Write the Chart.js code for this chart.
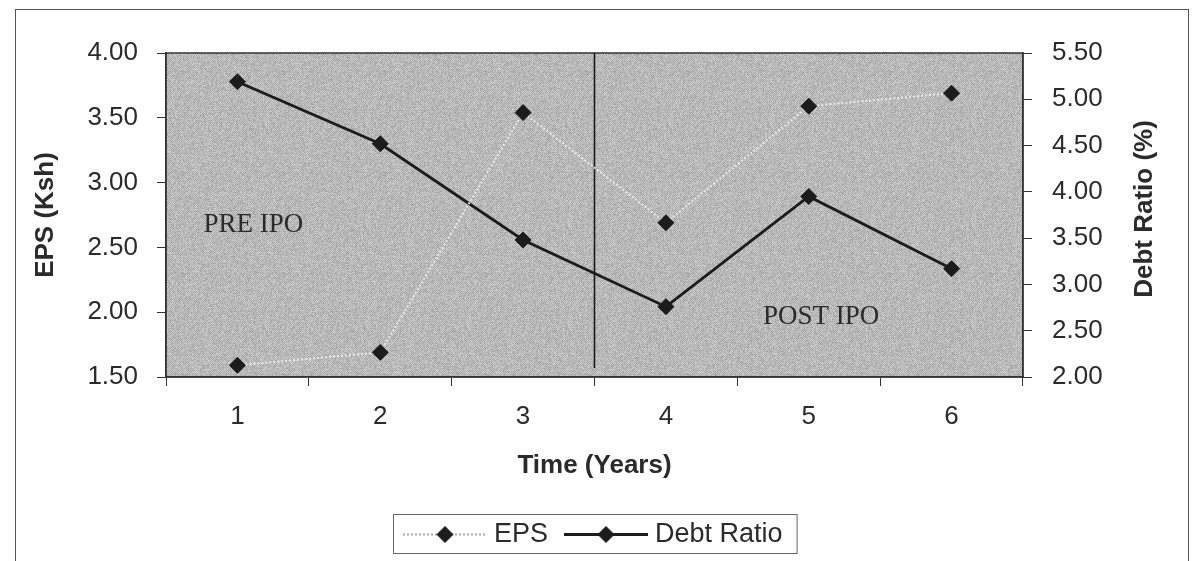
<!DOCTYPE html>
<html>
<head>
<meta charset="utf-8">
<script src="https://cdn.jsdelivr.net/npm/chart.js@4/dist/chart.umd.min.js"></script>
<style>
  html, body { margin: 0; padding: 0; background: #ffffff; }
  #wrap { position: relative; width: 1199px; height: 561px; }
</style>
</head>
<body>
<div id="wrap"><canvas id="c"></canvas></div>
<script>
// ---- data ----
const years = ['1', '2', '3', '4', '5', '6'];
const epsValues = [1.59, 1.69, 3.54, 2.69, 3.59, 3.69];
const debtValues = [5.19, 4.52, 3.48, 2.76, 3.95, 3.17];
const epsTicks = [1.5, 2.0, 2.5, 3.0, 3.5, 4.0];
const debtTicks = [2.0, 2.5, 3.0, 3.5, 4.0, 4.5, 5.0, 5.5];
const seriesNames = ['EPS', 'Debt Ratio'];
const axisTitles = { x: 'Time (Years)', y: 'EPS (Ksh)', y1: 'Debt Ratio (%)' };
const periodLabels = ['PRE IPO', 'POST IPO'];
const ipoBoundary = 3.5; // between year 3 and year 4

const SANS = '"Liberation Sans", Arial, sans-serif';
const SERIF = '"Liberation Serif", "Times New Roman", serif';
const INK = '#2b2b2b';

// dithered grey texture for the plot area (deterministic, decorative only)
let patternCache = null;
function makePattern(ctx) {
  if (patternCache) return patternCache;
  const N = 101;
  const p = document.createElement('canvas');
  p.width = N; p.height = N;
  const pc = p.getContext('2d');
  const img = pc.createImageData(N, N);
  let s = 12345;
  for (let j = 0; j < N; j++) {
    for (let i = 0; i < N; i++) {
      s = (s * 1103515245 + 12345) & 0x7fffffff;
      const r = (s >> 16) % 40;
      const checker = ((i + j) % 2) ? 9 : -9;
      const v = 185 + checker + (r - 20);
      const k = (j * N + i) * 4;
      img.data[k] = v; img.data[k + 1] = v; img.data[k + 2] = v; img.data[k + 3] = 255;
    }
  }
  pc.putImageData(img, 0, 0);
  patternCache = ctx.createPattern(p, 'repeat');
  return patternCache;
}

const decorPlugin = {
  id: 'decor',
  beforeDraw(chart) {
    const { ctx, chartArea: a } = chart;
    ctx.save();
    // outer frame
    ctx.strokeStyle = '#555';
    ctx.lineWidth = 1;
    ctx.strokeRect(15.5, 9.5, 1173, 620);
    // plot background
    ctx.fillStyle = makePattern(ctx);
    ctx.fillRect(a.left, a.top, a.right - a.left, a.bottom - a.top);
    ctx.restore();
  },
  beforeDatasetsDraw(chart) {
    const { ctx, chartArea: a, scales } = chart;
    const xs = scales.x;
    ctx.save();
    // plot border
    ctx.strokeStyle = '#333';
    ctx.lineWidth = 1.5;
    ctx.strokeRect(a.left, a.top, a.right - a.left, a.bottom - a.top);
    // IPO divider
    const xd = (xs.getPixelForValue(Math.floor(ipoBoundary) - 1) + xs.getPixelForValue(Math.ceil(ipoBoundary) - 1)) / 2;
    ctx.strokeStyle = '#1a1a1a';
    ctx.lineWidth = 1.6;
    ctx.beginPath();
    ctx.moveTo(xd, a.top);
    ctx.lineTo(xd, a.bottom - 9);
    ctx.stroke();
    // period labels
    ctx.fillStyle = INK;
    ctx.font = '27px ' + SERIF;
    ctx.textBaseline = 'alphabetic';
    ctx.textAlign = 'left';
    const ys = scales.y;
    ctx.fillText(periodLabels[0], xs.getPixelForValue(0) - 34, ys.getPixelForValue(2.615));
    ctx.fillText(periodLabels[1], xs.getPixelForValue(3) + 97, ys.getPixelForValue(1.91));
    ctx.restore();
  },
  afterDraw(chart) {
    const { ctx, chartArea: a } = chart;
    ctx.save();
    // right axis title (reads bottom-to-top)
    ctx.fillStyle = INK;
    ctx.font = 'bold 26px ' + SANS;
    ctx.textAlign = 'center';
    ctx.textBaseline = 'middle';
    ctx.translate(1145, (a.top + a.bottom) / 2 - 6);
    ctx.rotate(-Math.PI / 2);
    ctx.fillText(axisTitles.y1, 0, 0);
    ctx.restore();

    // legend
    ctx.save();
    const ds = chart.data.datasets;
    ctx.font = '27px ' + SANS;
    const boxL = 393, boxT = 514, boxH = 39;
    const sampleW = 84, gap1 = 7, gap2 = 16;
    let x = boxL + 10;
    const cy = boxT + boxH / 2 + 1;
    const items = [];
    ds.forEach((d) => {
      const tw = ctx.measureText(d.label).width;
      items.push({ d, x, tw });
      x += sampleW + gap1 + tw + gap2;
    });
    const boxR = x - gap2 + 14;
    ctx.fillStyle = '#fff';
    ctx.fillRect(boxL, boxT, boxR - boxL, boxH);
    ctx.strokeStyle = '#666';
    ctx.lineWidth = 1;
    ctx.strokeRect(boxL + 0.5, boxT + 0.5, boxR - boxL, boxH);
    items.forEach(({ d, x }) => {
      ctx.save();
      ctx.strokeStyle = d.legendLineColor || d.borderColor;
      ctx.lineWidth = d.borderWidth;
      ctx.setLineDash(d.borderDash || []);
      ctx.beginPath();
      ctx.moveTo(x, cy);
      ctx.lineTo(x + sampleW, cy);
      ctx.stroke();
      ctx.setLineDash([]);
      ctx.fillStyle = d.pointBackgroundColor;
      ctx.strokeStyle = d.pointBorderColor;
      ctx.lineWidth = 1;
      Chart.helpers.drawPoint(ctx, { pointStyle: 'rectRot', radius: d.pointRadius, borderWidth: 1 }, x + sampleW / 2, cy);
      ctx.restore();
      ctx.fillStyle = INK;
      ctx.textAlign = 'left';
      ctx.textBaseline = 'middle';
      ctx.fillText(d.label, x + sampleW + gap1, cy);
    });
    ctx.restore();
  }
};

const ctx = document.getElementById('c').getContext('2d');
new Chart(ctx, {
  type: 'line',
  data: {
    labels: years,
    datasets: [
      {
        label: seriesNames[0],
        data: epsValues,
        yAxisID: 'y',
        borderColor: '#e8e8e8',
        legendLineColor: '#a8a8a8',
        borderWidth: 2,
        borderDash: [2, 2],
        pointStyle: 'rectRot',
        pointRadius: 8,
        pointHoverRadius: 8,
        pointBackgroundColor: '#1c1c1c',
        pointBorderColor: '#1c1c1c',
        pointBorderWidth: 1,
        tension: 0,
        fill: false
      },
      {
        label: seriesNames[1],
        data: debtValues,
        yAxisID: 'y1',
        borderColor: '#1c1c1c',
        borderWidth: 2.8,
        pointStyle: 'rectRot',
        pointRadius: 8,
        pointHoverRadius: 8,
        pointBackgroundColor: '#1c1c1c',
        pointBorderColor: '#1c1c1c',
        pointBorderWidth: 1,
        tension: 0,
        fill: false
      }
    ]
  },
  options: {
    responsive: true,
    maintainAspectRatio: false,
    animation: false,
    events: [],
    layout: { padding: { top: 53, left: 0, right: 0, bottom: 0 } },
    plugins: {
      legend: { display: false },
      tooltip: { enabled: false },
      title: { display: false }
    },
    scales: {
      x: {
        type: 'category',
        offset: true,
        afterFit: (s) => { s.height = 184; },
        grid: { display: true, drawOnChartArea: false, drawTicks: true, tickLength: 9, color: '#333', lineWidth: 1, offset: true },
        border: { display: true, color: '#333', width: 1.5 },
        ticks: { color: INK, font: { family: SANS, size: 26 }, padding: 15, maxRotation: 0 },
        title: { display: true, text: axisTitles.x, color: INK, font: { family: SANS, size: 26, weight: 'bold' }, padding: { top: 0, bottom: 80 } }
      },
      y: {
        position: 'left',
        min: epsTicks[0],
        max: epsTicks[epsTicks.length - 1],
        afterFit: (s) => { s.width = 166; },
        afterBuildTicks: (s) => { s.ticks = epsTicks.map(v => ({ value: v })); },
        grid: { display: true, drawOnChartArea: false, drawTicks: true, tickLength: 9, color: '#333', lineWidth: 1 },
        border: { display: true, color: '#333', width: 1.5 },
        ticks: { color: INK, font: { family: SANS, size: 26 }, padding: 19, callback: (v) => Number(v).toFixed(2) },
        title: { display: true, text: axisTitles.y, color: INK, font: { family: SANS, size: 26, weight: 'bold' }, padding: { top: 30, bottom: 0 } }
      },
      y1: {
        position: 'right',
        min: debtTicks[0],
        max: debtTicks[debtTicks.length - 1],
        afterFit: (s) => { s.width = 176; },
        afterBuildTicks: (s) => { s.ticks = debtTicks.map(v => ({ value: v })); },
        grid: { display: true, drawOnChartArea: false, drawTicks: true, tickLength: 9, color: '#333', lineWidth: 1 },
        border: { display: true, color: '#333', width: 1.5 },
        ticks: { color: INK, font: { family: SANS, size: 26 }, padding: 20, callback: (v) => Number(v).toFixed(2) }
      }
    }
  },
  plugins: [decorPlugin]
});
</script>
</body>
</html>
